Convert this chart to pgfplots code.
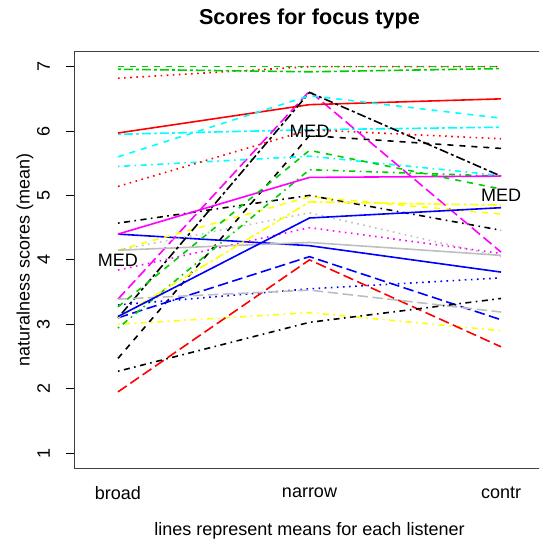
\documentclass[border=0pt]{standalone}
\usepackage{pgfplots}
\pgfplotsset{compat=1.18}
\usepackage{fontspec}
\setmainfont{Liberation Sans}
\definecolor{rgreen}{HTML}{00CD00}
\definecolor{rblue}{HTML}{0000FF}
\definecolor{rred}{HTML}{FF0000}
\definecolor{rcyan}{HTML}{00FFFF}
\definecolor{rmag}{HTML}{FF00FF}
\definecolor{ryel}{HTML}{FFFF00}
\definecolor{rgray}{HTML}{BEBEBE}
\tikzset{
  lsolid/.style={solid},
  ldashed/.style={dash pattern=on 6pt off 6pt},
  ldotted/.style={dash pattern=on 1.6pt off 4.5pt},
  ldotdash/.style={dash pattern=on 1.6pt off 4.5pt on 6pt off 4.5pt},
  llongdash/.style={dash pattern=on 10.5pt off 4.5pt},
  ltwodash/.style={dash pattern=on 3pt off 3pt on 9pt off 3pt},
}
\begin{document}
\begin{tikzpicture}[x=1pt,y=1pt]
\path[use as bounding box] (0,0) rectangle (539,552);
\clip (0,0) rectangle (539,552);
\begin{axis}[
  at={(75pt,83.5pt)}, anchor=south west,
  width=469pt, height=417.3pt, scale only axis,
  xmin=0.7755, xmax=3.2245, ymin=0.76, ymax=7.24,
  xtick={1,2,3}, xticklabels={broad,narrow,contr},
  x tick style={draw=none},
  xticklabel style={anchor=center, yshift=-24.5pt},
  ytick={1,2,3,4,5,6,7},
  ytick align=outside, ytick pos=left, xtick pos=bottom,
  major tick length=9pt,
  y tick style={black, line width=0.8pt},
  /pgf/number format/assume math mode=true,
  yticklabel style={rotate=90, anchor=south, inner sep=0pt},
  yticklabel shift=16pt,
  tick label style={font=\fontsize{18}{20}\selectfont},
  axis line style={black!75, line width=1pt},
  every axis plot/.append style={line width=1.6pt, line cap=butt},
]
\addplot[black, ldotdash] coordinates {(1,4.57) (2,5.00) (3,4.46)};
\addplot[rred, ldotted] coordinates {(1,6.82) (2,7.00) (3,7.00)};
\addplot[rgreen, ldashed] coordinates {(1,7.00) (2,7.00) (3,7.00)};
\addplot[rblue, lsolid] coordinates {(1,4.40) (2,4.22) (3,3.81)};
\addplot[rcyan, ltwodash] coordinates {(1,5.95) (2,6.02) (3,6.06)};
\addplot[rmag, llongdash] coordinates {(1,3.39) (2,6.62) (3,4.12)};
\addplot[ryel, ldotdash] coordinates {(1,3.00) (2,3.18) (3,2.90)};
\addplot[rgray, ldotted] coordinates {(1,4.15) (2,4.73) (3,4.05)};
\addplot[black, ldashed] coordinates {(1,2.47) (2,5.93) (3,5.73)};
\addplot[rred, lsolid] coordinates {(1,5.97) (2,6.41) (3,6.50)};
\addplot[rgreen, ltwodash] coordinates {(1,6.96) (2,6.92) (3,6.97)};
\addplot[rblue, llongdash] coordinates {(1,3.10) (2,4.05) (3,3.07)};
\addplot[rcyan, ldotdash] coordinates {(1,5.45) (2,5.61) (3,5.31)};
\addplot[rmag, ldotted] coordinates {(1,3.84) (2,4.50) (3,4.10)};
\addplot[ryel, ldashed] coordinates {(1,4.15) (2,4.98) (3,4.71)};
\addplot[rgray, lsolid] coordinates {(1,4.15) (2,4.27) (3,4.07)};
\addplot[black, ltwodash] coordinates {(1,3.10) (2,6.60) (3,5.30)};
\addplot[rred, llongdash] coordinates {(1,1.95) (2,4.00) (3,2.65)};
\addplot[rgreen, ldotdash] coordinates {(1,2.94) (2,5.40) (3,5.30)};
\addplot[rblue, ldotted] coordinates {(1,3.30) (2,3.55) (3,3.72)};
\addplot[rcyan, ldashed] coordinates {(1,5.60) (2,6.55) (3,6.20)};
\addplot[rmag, lsolid] coordinates {(1,4.40) (2,5.28) (3,5.30)};
\addplot[ryel, ltwodash] coordinates {(1,3.10) (2,4.90) (3,4.85)};
\addplot[rgray, llongdash] coordinates {(1,3.39) (2,3.53) (3,3.19)};
\addplot[black, ldotdash] coordinates {(1,2.27) (2,3.03) (3,3.40)};
\addplot[rred, ldotted] coordinates {(1,5.14) (2,6.02) (3,5.88)};
\addplot[rgreen, ldashed] coordinates {(1,3.27) (2,5.70) (3,5.10)};
\addplot[rblue, lsolid] coordinates {(1,3.12) (2,4.65) (3,4.81)};
\node[font=\fontsize{18}{20}\selectfont] at (axis cs:1,4) {MED};
\node[font=\fontsize{18}{20}\selectfont] at (axis cs:2,6) {MED};
\node[font=\fontsize{18}{20}\selectfont] at (axis cs:3,5) {MED};
\end{axis}
\node[font=\fontsize{21.6}{24}\selectfont\bfseries] at (309.5,533) {Scores for focus type};
\node[font=\fontsize{18}{20}\selectfont] at (309.5,21) {lines represent means for each listener};
\node[font=\fontsize{18}{20}\selectfont, rotate=90] at (25,292) {naturalness scores (mean)};
\end{tikzpicture}
\end{document}
